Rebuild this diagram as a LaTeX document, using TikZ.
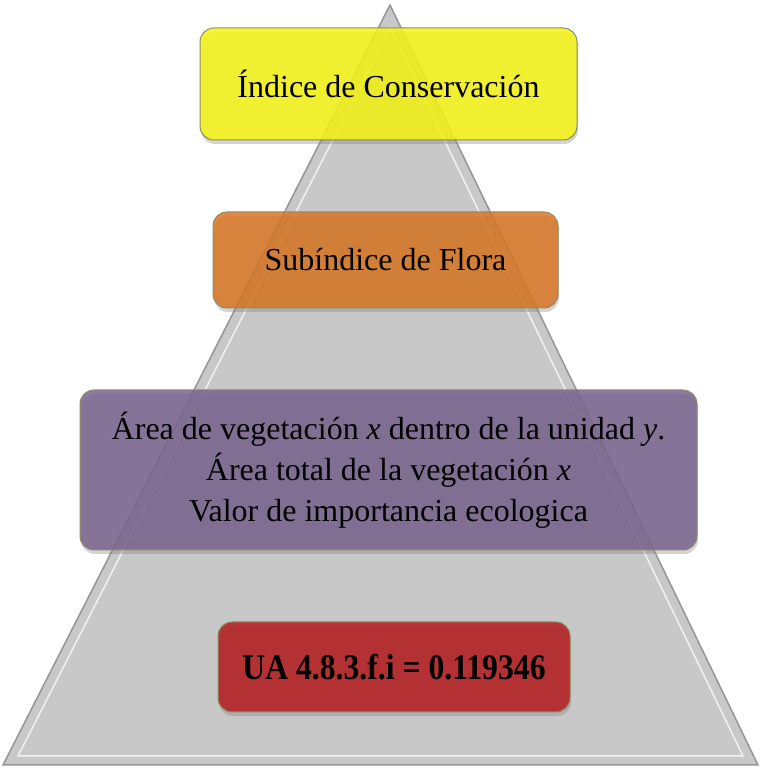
\documentclass[tikz,border=0pt]{standalone}
\usepackage{fontspec}
\setmainfont{Liberation Serif}
\definecolor{pyramid}{RGB}{200,200,200}
\definecolor{edge}{RGB}{150,150,150}
\definecolor{boxline}{RGB}{140,140,100}
\definecolor{indice}{RGB}{245,245,20}
\definecolor{flora}{RGB}{216,118,36}
\definecolor{vegeta}{RGB}{120,100,142}
\definecolor{resul}{RGB}{180,28,30}
\usetikzlibrary{shadows}
\tikzstyle{base}=[x=1pt, y=1pt]
\tikzstyle{box}=[rounded corners=14pt, draw=boxline, line width=1pt, fill opacity=0.85, text opacity=1,
    drop shadow={opacity=0.35, shadow xshift=1pt, shadow yshift=-4pt}, align=center, font=\fontsize{32}{41}\selectfont]

\begin{document}
\begin{tikzpicture}[base]
    \path [use as bounding box] (0,0) rectangle (761,768);
    % piramide
    \draw [edge, fill=pyramid, line width=1.5pt] (3,3) -- (390,763) -- (758,3) -- cycle;
    \draw [white, opacity=0.75, line width=1.5pt] (18,12) -- (390,740) -- (743,12) -- cycle;
    % niveles
    \node [box, fill=indice, minimum width=377pt, minimum height=112pt] (ic) at (388.5,684) {Índice de Conservación};
    \node [box, fill=flora, minimum width=345pt, minimum height=96pt] (sf) at (385.5,508) {Subíndice de Flora};
    \node [box, fill=vegeta, minimum width=617pt, minimum height=160pt] (av) at (388.5,298)
        {Área de vegetación \textit{x} dentro de la unidad \textit{y}.\\
         Área total de la vegetación \textit{x}\\
         Valor de importancia ecologica};
    \node [box, fill=resul, minimum width=352pt, minimum height=90pt] (ua) at (394,101)
        {\scalebox{0.88}[1]{\fontsize{36}{40}\selectfont\bfseries UA 4.8.3.f.i = 0.119346}};
\end{tikzpicture}
\end{document}
